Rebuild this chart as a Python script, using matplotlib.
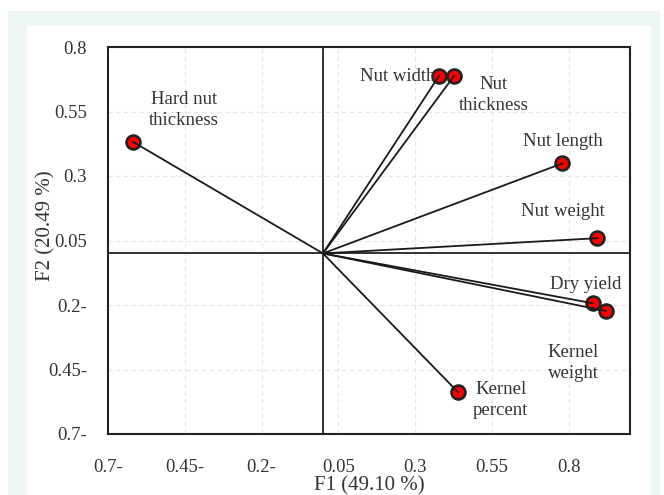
import numpy as np
import matplotlib.pyplot as plt
from matplotlib.patches import Rectangle

# loadings
names = ["Hard nut thickness", "Nut width", "Nut thickness", "Nut length",
         "Nut weight", "Dry yield", "Kernel weight", "Kernel percent"]
f1 = [-0.618, 0.378, 0.427, 0.780, 0.894, 0.878, 0.921, 0.440]
f2 = [0.432, 0.688, 0.688, 0.349, 0.059, -0.193, -0.223, -0.538]

label_text = ["Hard nut\nthickness", "Nut width", "Nut\nthickness", "Nut length",
              "Nut weight", "Dry yield", "Kernel\nweight", "Kernel\npercent"]
label_x = [-0.452, 0.242, 0.555, 0.780, 0.783, 0.856, 0.815, 0.579]
label_y = [0.556, 0.686, 0.614, 0.433, 0.164, -0.120, -0.424, -0.568]

ticks = [-0.7, -0.45, -0.2, 0.05, 0.3, 0.55, 0.8]
x_ticklabels = ["0.7-", "0.45-", "0.2-", "0.05", "0.3", "0.55", "0.8"]
y_ticklabels = ["0.7-", "0.45-", "0.2-", "0.05", "0.3", "0.55", "0.8"]

plt.rcParams['font.family'] = ['Liberation Serif', 'DejaVu Serif']
txt = "#333333"

fig = plt.figure(figsize=(6.64, 4.95), dpi=100)
W, H = 664.0, 495.0
fig.patches.append(Rectangle((8 / W, 0), (660 - 8) / W, (495 - 11) / H,
                             transform=fig.transFigure, facecolor="#eef6f1",
                             edgecolor="none", zorder=-10))
fig.patches.append(Rectangle((27 / W, 0), (651 - 27) / W, (495 - 26) / H,
                             transform=fig.transFigure, facecolor="white",
                             edgecolor="none", zorder=-9))

ax = fig.add_axes([108 / W, 1 - 434 / H, (630 - 108) / W, (434 - 47) / H])
ax.set_xlim(-0.7, 1.0)
ax.set_ylim(-0.7, 0.8)

ax.grid(True, color="#e4e4e4", linestyle=(0, (4, 3)), linewidth=0.8)
ax.set_axisbelow(True)
ax.axhline(0, color="#222222", linewidth=1.3, zorder=2)
ax.axvline(0, color="#222222", linewidth=1.3, zorder=2)

for i in range(len(names)):
    ax.plot([0, f1[i]], [0, f2[i]], color="#1a1a1a", linewidth=1.3, zorder=4)
ax.scatter(f1, f2, s=100, color="#ff0000", edgecolor="#222222", linewidth=1.9, zorder=3)

for i in range(len(names)):
    ax.text(label_x[i], label_y[i], label_text[i], ha="center", va="center",
            fontsize=13.5, color=txt, linespacing=1.3)

ax.set_xticks(ticks)
ax.set_xticklabels(x_ticklabels)
ax.set_yticks(ticks)
ax.set_yticklabels(y_ticklabels)
ax.tick_params(axis="both", length=0, labelsize=13.5, labelcolor=txt)
ax.tick_params(axis="x", pad=18)
ax.tick_params(axis="y", pad=15)
for s in ax.spines.values():
    s.set_color("#222222")
    s.set_linewidth(1.5)

fig.text(369 / W, 1 - 486 / H, "F1 (49.10 %)", ha="center", va="center",
         fontsize=15, color=txt)
fig.text(46 / W, 1 - 226 / H, "F2 (20.49 %)", ha="center", va="center",
         rotation=90, fontsize=15, color=txt)

fig.savefig("out.png", dpi=100)
